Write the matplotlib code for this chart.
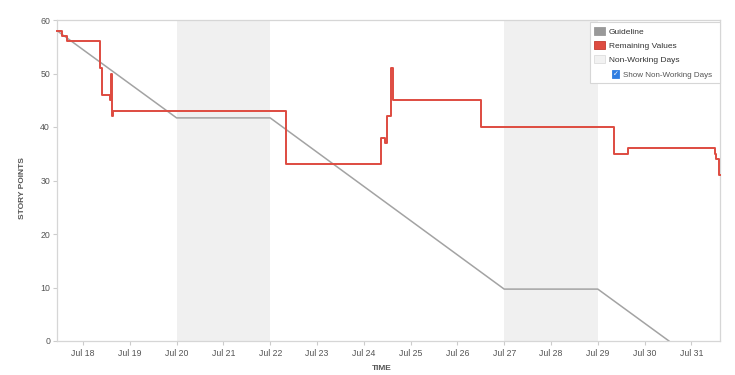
import datetime as dt
import matplotlib
matplotlib.use('Agg')
import matplotlib.pyplot as plt
import matplotlib.dates as mdates
from matplotlib.patches import Rectangle

plt.rcParams['font.family'] = ['Liberation Sans', 'DejaVu Sans']

# DATA
guide_times = ['2019-07-17 10:40', '2019-07-20 00:00', '2019-07-22 00:00',
               '2019-07-27 00:00', '2019-07-29 00:00', '2019-07-30 12:30']
guide_vals = [58, 41.7, 41.7, 9.7, 9.7, 0]

rem_times = ['2019-07-17 10:40', '2019-07-17 13:05', '2019-07-17 15:40',
             '2019-07-18 08:50', '2019-07-18 09:55', '2019-07-18 14:00',
             '2019-07-18 14:30', '2019-07-18 14:40', '2019-07-18 15:15',
             '2019-07-22 08:10', '2019-07-24 08:40', '2019-07-24 10:50',
             '2019-07-24 11:45', '2019-07-24 13:50', '2019-07-24 14:50',
             '2019-07-26 12:00', '2019-07-29 08:30', '2019-07-29 15:20',
             '2019-07-31 12:00', '2019-07-31 12:40', '2019-07-31 14:00',
             '2019-07-31 14:40']
rem_vals = [58, 57, 56, 51, 46, 45, 50, 42, 43, 33, 38, 37, 42, 51, 45,
            40, 35, 36, 35, 34, 31, 31]

nonworking = [('2019-07-20', '2019-07-22'), ('2019-07-27', '2019-07-29')]
legend_labels = ['Guideline', 'Remaining Values', 'Non-Working Days']
check_label = 'Show Non-Working Days'

red = '#de4b40'
gray = '#a3a3a3'
shade = '#f0f0f0'
txt = '#555555'

def todt(s):
    return dt.datetime.fromisoformat(s)

fig = plt.figure(figsize=(7.35, 3.75), dpi=100)
ax = fig.add_axes([57/735, 34/375, 663/735, 321/375])

for a, b in nonworking:
    ax.axvspan(todt(a), todt(b), color=shade, lw=0, zorder=0)

ax.plot([todt(t) for t in guide_times], guide_vals, color=gray, lw=1.1, zorder=2)
ax.step([todt(t) for t in rem_times], rem_vals, where='post', color=red, lw=1.4,
        zorder=3, clip_on=False)

ax.set_xlim(todt('2019-07-17 10:40'), todt('2019-07-31 14:40'))
ax.set_ylim(0, 60)
ax.set_yticks(range(0, 61, 10))
ax.xaxis.set_major_locator(mdates.DayLocator())
ax.xaxis.set_major_formatter(mdates.DateFormatter('%b %d'))
ax.tick_params(axis='both', labelsize=6.3, colors=txt, length=3, width=0.8)
ax.tick_params(axis='both', color='#cccccc')
ax.tick_params(axis='x', pad=3)
ax.tick_params(axis='y', pad=2)
for s in ax.spines.values():
    s.set_color('#d6d6d6')
    s.set_linewidth(0.9)

fig.text(22/735, 1 - 188/375, 'STORY POINTS', rotation=90, ha='center', va='center',
         fontsize=6, fontweight='bold', color=txt)
fig.text(382/735, 1 - 369/375, 'TIME', ha='center', va='center',
         fontsize=6, fontweight='bold', color=txt)

# legend box drawn in figure pixels
def fx(px):
    return px / 735
def fy(py):
    return 1 - py / 375

fig.patches.append(Rectangle((fx(590), fy(83)), fx(720) - fx(590), fy(22) - fy(83),
                             transform=fig.transFigure, facecolor='white',
                             edgecolor='#d6d6d6', lw=0.8, zorder=5))
patch_cols = [('#999999', '#999999'), (red, '#c23a30'), ('#f2f2f2', '#dddddd')]
rows = [30.5, 45, 59]
for (fc, ec), y, lab in zip(patch_cols, rows, legend_labels):
    fig.patches.append(Rectangle((fx(594), fy(y + 4)), fx(605) - fx(594), fy(y - 4) - fy(y + 4),
                                 transform=fig.transFigure, facecolor=fc, edgecolor=ec,
                                 lw=0.6, zorder=6))
    fig.text(fx(609), fy(y + 0.5), lab, ha='left', va='center_baseline', fontsize=6,
             color='#333333', zorder=7)
fig.patches.append(Rectangle((fx(612), fy(77.5)), fx(619) - fx(612), fy(70.5) - fy(77.5),
                             transform=fig.transFigure, facecolor='#2f7de1',
                             edgecolor='#2f7de1', lw=0.6, zorder=6))
fig.text(fx(615.5), fy(74.2), '✓', ha='center', va='center', fontsize=5,
         color='white', fontweight='bold', family='DejaVu Sans', zorder=8)
fig.text(fx(623), fy(74.5), check_label, ha='left', va='center_baseline', fontsize=5.8,
         color='#555555', zorder=7)

fig.savefig('out.png', dpi=100, facecolor='white')
